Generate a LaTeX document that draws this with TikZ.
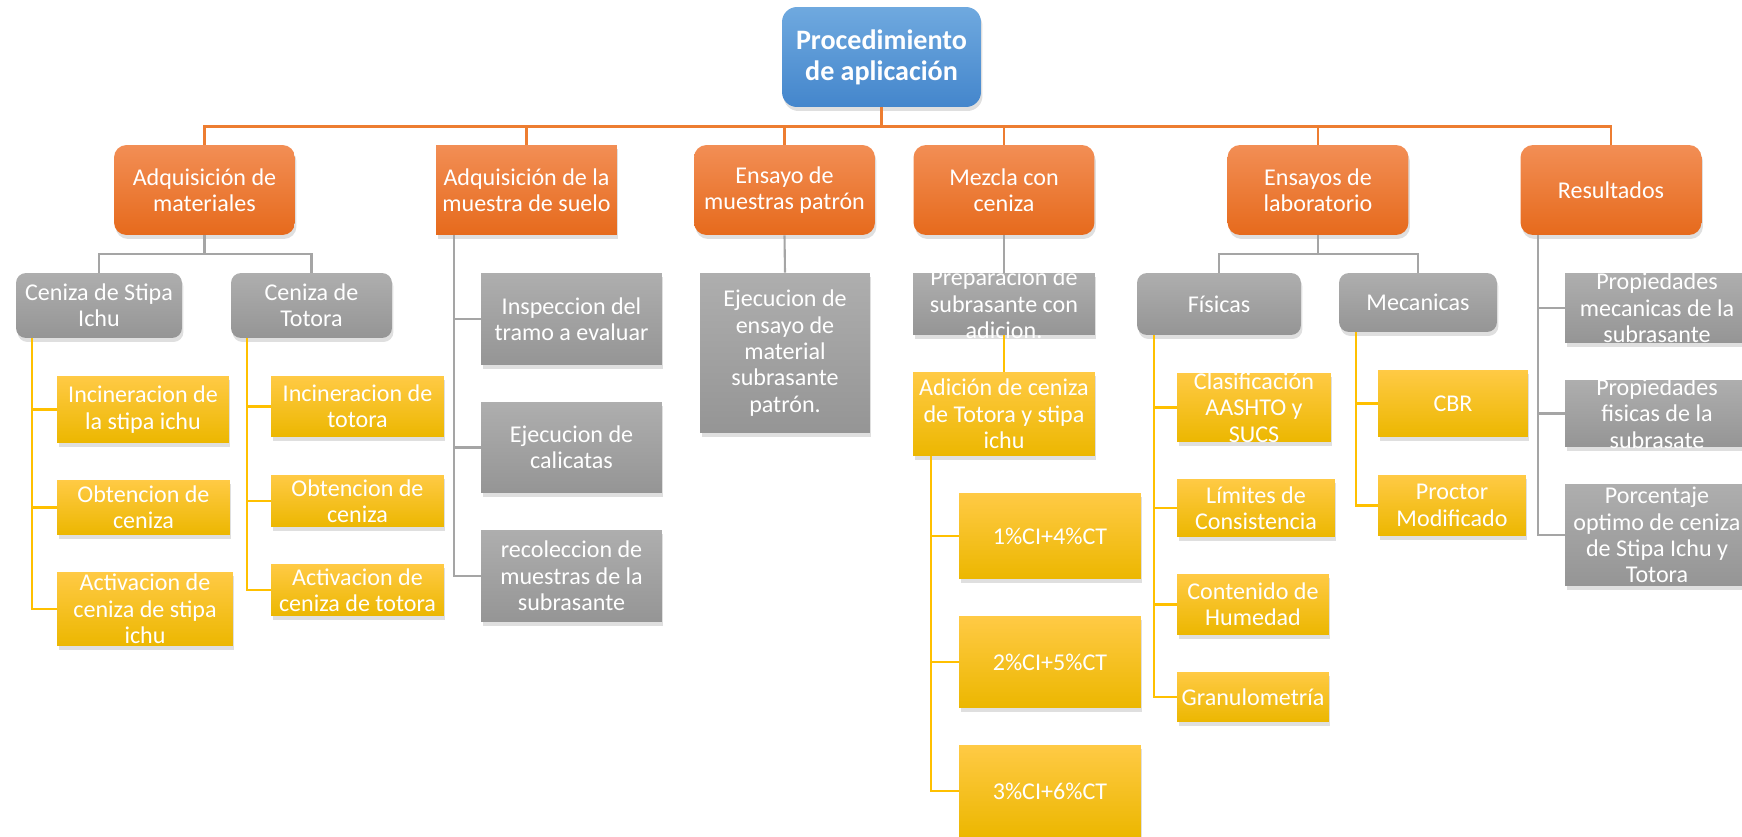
\documentclass[tikz,border=0pt]{standalone}
\usepackage{fontspec}
\setmainfont{Carlito}
\usepackage{xcolor}
\usepackage{tikz}
\usetikzlibrary{positioning,shadows}

\definecolor{orgtop}{HTML}{F28E55}
\definecolor{orgbot}{HTML}{E66A1C}
\definecolor{blutop}{HTML}{6FA9DF}
\definecolor{blubot}{HTML}{4486CC}
\definecolor{grytop}{HTML}{AEAEAE}
\definecolor{grybot}{HTML}{959595}
\definecolor{yeltop}{HTML}{FFCA45}
\definecolor{yelbot}{HTML}{ECB700}
\definecolor{lnorg}{HTML}{ED7D31}
\definecolor{lngry}{HTML}{A5A5A5}
\definecolor{lnyel}{HTML}{FFC000}

\begin{document}
\begin{tikzpicture}[x=0.02cm,y=-0.02cm,
	box/.style={inner xsep=0pt,inner ysep=-20pt,align=center,text=white,
		font=\fontsize{13.7}{15}\selectfont,
		drop shadow={shadow xshift=0.03cm,shadow yshift=-0.08cm,opacity=0.25}},
	bbox/.style={box,top color=blutop,bottom color=blubot,rounded corners=0.3cm,
		font=\fontsize{16}{17.6}\selectfont\bfseries},
	obox/.style={box,top color=orgtop,bottom color=orgbot,rounded corners=0.25cm,
		minimum width=3.62cm,minimum height=1.8cm},
	gbox/.style={box,top color=grytop,bottom color=grybot},
	ybox/.style={box,top color=yeltop,bottom color=yelbot},
	oline/.style={draw=lnorg,line width=1.6pt},
	gline/.style={draw=lngry,line width=1.2pt},
	yline/.style={draw=lnyel,line width=1.3pt}]
	\useasboundingbox (0,0) rectangle (1742,837);

	\node[bbox,minimum width=3.98cm,minimum height=2cm] (root) at (881.5,57) {Procedimiento\\de aplicación};

	\node[obox] (adqmat) at (204.5,190) {Adquisición de\\materiales};
	\node[obox,sharp corners] (adqsuelo) at (526.5,190) {Adquisición de la\\muestra de suelo};
	\node[obox] (patron) at (784.5,190) {Ensayo de\\muestras patrón};
	\node[obox] (mezcla) at (1004,190) {Mezcla con\\ceniza};
	\node[obox] (lab) at (1318,190) {Ensayos de\\laboratorio};
	\node[obox] (result) at (1611,190) {Resultados};

	% ceniza
	\node[gbox,rounded corners=0.2cm,minimum width=3.32cm,minimum height=1.3cm] (stipa) at (99,305.5) {Ceniza de Stipa\\Ichu};
	\node[gbox,rounded corners=0.2cm,minimum width=3.22cm,minimum height=1.3cm] (totora) at (311.5,305.5) {Ceniza de\\Totora};
	\node[ybox,minimum width=3.44cm,minimum height=1.34cm] (incst) at (143,409.5) {Incineracion de\\la stipa ichu};
	\node[ybox,minimum width=3.46cm,minimum height=1.1cm] (obtst) at (143.5,507.5) {Obtencion de\\ceniza};
	\node[ybox,minimum width=3.52cm,minimum height=1.48cm] (actst) at (145,609) {Activacion de\\ceniza de stipa\\ichu};
	\node[ybox,minimum width=3.46cm,minimum height=1.22cm] (inctt) at (357.5,406.5) {Incineracion de\\totora};
	\node[ybox,minimum width=3.46cm,minimum height=1.04cm] (obttt) at (357.5,501) {Obtencion de\\ceniza};
	\node[ybox,minimum width=3.46cm,minimum height=1.04cm] (acttt) at (357.5,590) {Activacion de\\ceniza de totora};

	% suelo y patron
	\node[gbox,minimum width=3.62cm,minimum height=1.84cm] (insp) at (571.5,319) {Inspeccion del\\tramo a evaluar};
	\node[gbox,minimum width=3.62cm,minimum height=1.82cm] (calic) at (571.5,447.5) {Ejecucion de\\calicatas};
	\node[gbox,minimum width=3.62cm,minimum height=1.84cm] (recol) at (571.5,576) {recoleccion de\\muestras de la\\subrasante};
	\node[gbox,minimum width=3.4cm,minimum height=3.2cm] (ejec) at (785,353) {Ejecucion de\\ensayo de\\material\\subrasante\\patrón.};

	% mezcla
	\node[gbox,minimum width=3.64cm,minimum height=1.24cm] (prep) at (1004,304) {Preparación de\\subrasante con\\adicion.};
	\node[ybox,minimum width=3.64cm,minimum height=1.68cm] (adic) at (1004,414) {Adición de ceniza\\de Totora y stipa\\ichu};
	\node[ybox,minimum width=3.64cm,minimum height=1.72cm] (mix1) at (1050,536) {1\%CI+4\%CT};
	\node[ybox,minimum width=3.64cm,minimum height=1.84cm] (mix2) at (1050,662) {2\%CI+5\%CT};
	\node[ybox,minimum width=3.64cm,minimum height=1.84cm] (mix3) at (1050,791) {3\%CI+6\%CT};

	% laboratorio
	\node[gbox,rounded corners=0.2cm,minimum width=3.28cm,minimum height=1.24cm] (fis) at (1219,304) {Físicas};
	\node[gbox,rounded corners=0.2cm,minimum width=3.16cm,minimum height=1.18cm] (mec) at (1418,302.5) {Mecanicas};
	\node[ybox,minimum width=3.08cm,minimum height=1.38cm] (clasif) at (1254,407.5) {Clasificación\\AASHTO y\\SUCS};
	\node[ybox,minimum width=3.16cm,minimum height=1.16cm] (lim) at (1256,508) {Límites de\\Consistencia};
	\node[ybox,minimum width=3.04cm,minimum height=1.22cm] (hum) at (1253,604.5) {Contenido de\\Humedad};
	\node[ybox,minimum width=3.04cm,minimum height=1cm] (gran) at (1253,697) {Granulometría};
	\node[ybox,minimum width=3cm,minimum height=1.34cm] (cbr) at (1453,403.5) {CBR};
	\node[ybox,minimum width=2.96cm,minimum height=1.22cm] (proctor) at (1452,505.5) {Proctor\\Modificado};

	% resultados
	\node[gbox,minimum width=3.68cm,minimum height=1.4cm] (pmec) at (1657,308) {Propiedades\\mecanicas de la\\subrasante};
	\node[gbox,minimum width=3.68cm,minimum height=1.34cm] (pfis) at (1657,413.5) {Propiedades\\fisicas de la\\subrasate};
	\node[gbox,minimum width=3.68cm,minimum height=2.04cm] (popt) at (1657,535) {Porcentaje\\optimo de ceniza\\de Stipa Ichu y\\Totora};

	\draw[oline] (root.south) -- ++(0,19) -| (adqmat.north);
	\draw[oline] (root.south) -- ++(0,19) -| (adqsuelo.north);
	\draw[oline] (root.south) -- ++(0,19) -| (patron.north);
	\draw[oline] (root.south) -- ++(0,19) -| (mezcla.north);
	\draw[oline] (root.south) -- ++(0,19) -| (lab.north);
	\draw[oline] (root.south) -- ++(0,19) -| (result.north);

	\draw[gline] (adqmat.south) -- ++(0,19) -| (stipa.north);
	\draw[gline] (adqmat.south) -- ++(0,19) -| (totora.north);
	\draw[yline] ([xshift=0.32cm]stipa.south west) |- (incst.west);
	\draw[yline] ([xshift=0.32cm]stipa.south west) |- (obtst.west);
	\draw[yline] ([xshift=0.32cm]stipa.south west) |- (actst.west);
	\draw[yline] ([xshift=0.32cm]totora.south west) |- (inctt.west);
	\draw[yline] ([xshift=0.32cm]totora.south west) |- (obttt.west);
	\draw[yline] ([xshift=0.32cm]totora.south west) |- (acttt.west);

	\draw[gline] ([xshift=0.36cm]adqsuelo.south west) |- (insp.west);
	\draw[gline] ([xshift=0.36cm]adqsuelo.south west) |- (calic.west);
	\draw[gline] ([xshift=0.36cm]adqsuelo.south west) |- (recol.west);
	\draw[gline] (patron.south) -- (ejec.north);

	\draw[gline] (mezcla.south) -- (prep.north);
	\draw[yline] (prep.south) -- (adic.north);
	\draw[yline] ([xshift=0.36cm]adic.south west) |- (mix1.west);
	\draw[yline] ([xshift=0.36cm]adic.south west) |- (mix2.west);
	\draw[yline] ([xshift=0.36cm]adic.south west) |- (mix3.west);

	\draw[gline] (lab.south) -- ++(0,19) -| (fis.north);
	\draw[gline] (lab.south) -- ++(0,19) -| (mec.north);
	\draw[yline] ([xshift=0.34cm]fis.south west) |- (clasif.west);
	\draw[yline] ([xshift=0.34cm]fis.south west) |- (lim.west);
	\draw[yline] ([xshift=0.34cm]fis.south west) |- (hum.west);
	\draw[yline] ([xshift=0.34cm]fis.south west) |- (gran.west);
	\draw[yline] ([xshift=0.34cm]mec.south west) |- (cbr.west);
	\draw[yline] ([xshift=0.34cm]mec.south west) |- (proctor.west);

	\draw[gline] ([xshift=0.36cm]result.south west) |- (pmec.west);
	\draw[gline] ([xshift=0.36cm]result.south west) |- (pfis.west);
	\draw[gline] ([xshift=0.36cm]result.south west) |- (popt.west);
\end{tikzpicture}
\end{document}
